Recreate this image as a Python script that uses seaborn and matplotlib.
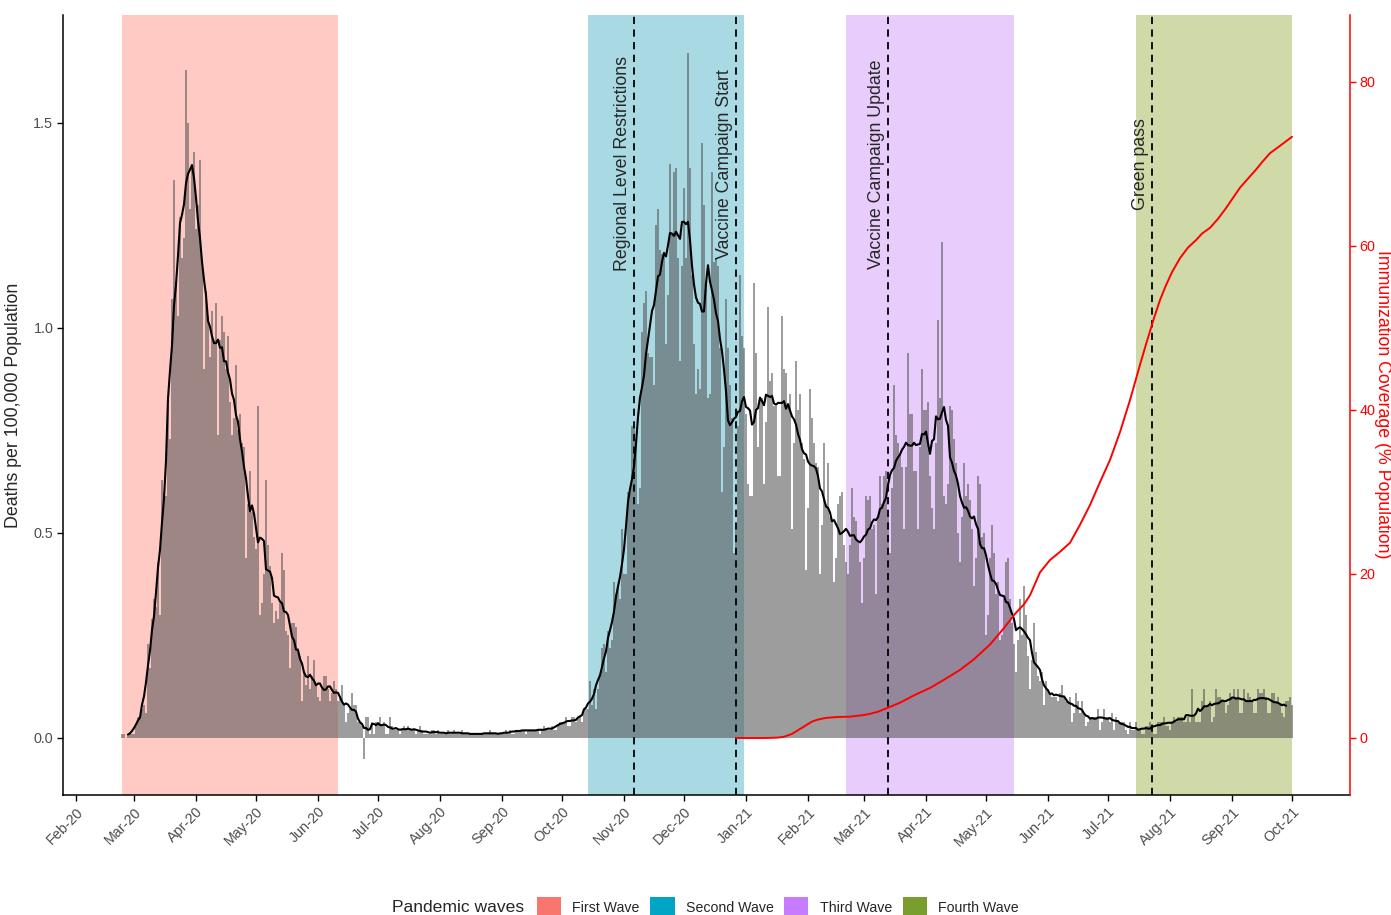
import numpy as np
import pandas as pd
import matplotlib
matplotlib.use('Agg')
import matplotlib.pyplot as plt
import matplotlib.dates as mdates
from matplotlib.patches import Patch
import seaborn as sns

# daily deaths per 100,000 population
feb20 = [0.01, 0.01, 0.00, 0.01, 0.01, 0.01]  # from Feb 24
mar20 = [0.01, 0.03, 0.05, 0.05, 0.07, 0.08, 0.06, 0.23, 0.17, 0.29, 0.34, 0.32, 0.43, 0.30, 0.63, 0.60,
         0.59, 0.81, 0.73, 1.07, 1.36, 1.11, 1.03, 1.27, 1.17, 1.22, 1.63, 1.50, 1.29, 1.39, 1.43]
apr20 = [1.24, 1.30, 1.41, 1.16, 0.90, 1.09, 1.03, 0.93, 1.04, 0.97, 1.06, 0.74, 0.97, 1.03, 0.99,
         0.90, 0.98, 0.82, 0.74, 0.78, 0.91, 0.75, 0.79, 0.72, 0.71, 0.44, 0.57, 0.65, 0.55, 0.49]
may20 = [0.46, 0.81, 0.30, 0.33, 0.40, 0.63, 0.47, 0.42, 0.33, 0.28, 0.31, 0.29, 0.33, 0.45, 0.41, 0.26,
         0.25, 0.17, 0.28, 0.28, 0.27, 0.22, 0.20, 0.09, 0.16, 0.13, 0.20, 0.12, 0.15, 0.19, 0.13]
jun20 = [0.10, 0.09, 0.12, 0.15, 0.15, 0.12, 0.09, 0.11, 0.14, 0.12, 0.09, 0.10, 0.13, 0.08, 0.04,
         0.06, 0.07, 0.11, 0.08, 0.08, 0.04, 0.04, 0.03, -0.05, 0.05, 0.05, 0.01, 0.04, 0.01, 0.04]
jul20 = [0.04, 0.05, 0.03, 0.04, 0.01, 0.01, 0.05, 0.03, 0.02, 0.02, 0.02, 0.01, 0.02, 0.03, 0.02, 0.03,
         0.02, 0.02, 0.02, 0.01, 0.02, 0.03, 0.02, 0.01, 0.01, 0.01, 0.01, 0.02, 0.02, 0.01, 0.02]
aug20 = [0.01, 0.01, 0.01, 0.01, 0.02, 0.01, 0.01, 0.02, 0.01, 0.01, 0.01, 0.02, 0.01, 0.01, 0.01, 0.01,
         0.01, 0.01, 0.01, 0.01, 0.01, 0.01, 0.01, 0.01, 0.01, 0.02, 0.01, 0.01, 0.01, 0.01, 0.01]
sep20 = [0.01, 0.01, 0.02, 0.01, 0.02, 0.01, 0.01, 0.02, 0.02, 0.02, 0.02, 0.02, 0.01, 0.02, 0.02,
         0.02, 0.02, 0.02, 0.02, 0.01, 0.02, 0.03, 0.02, 0.02, 0.02, 0.03, 0.02, 0.02, 0.03, 0.04]
oct20 = [0.04, 0.04, 0.05, 0.03, 0.03, 0.05, 0.05, 0.04, 0.05, 0.05, 0.04, 0.07, 0.07, 0.07, 0.14, 0.08,
         0.12, 0.07, 0.12, 0.15, 0.22, 0.23, 0.16, 0.26, 0.22, 0.24, 0.38, 0.35, 0.37, 0.34, 0.51]
nov20 = [0.40, 0.40, 0.60, 0.60, 0.76, 0.76, 0.73, 0.57, 0.61, 0.99, 1.06, 1.09, 0.94, 0.93, 0.93,
         0.86, 1.25, 1.29, 1.19, 1.18, 1.18, 0.96, 1.08, 1.40, 1.23, 1.38, 1.39, 1.17, 0.92, 1.15]
dec20 = [1.34, 1.17, 1.67, 1.39, 1.13, 0.96, 0.84, 0.90, 0.85, 1.45, 1.30, 1.11, 0.83, 0.84, 1.38, 1.16,
         1.17, 1.15, 0.95, 0.60, 0.71, 1.07, 0.95, 0.86, 0.78, 0.45, 0.52, 0.76, 1.13, 0.98, 0.95]
jan21 = [0.79, 0.62, 0.59, 0.59, 1.11, 0.94, 0.71, 0.83, 0.83, 0.62, 0.77, 1.05, 0.87, 0.89, 0.81, 0.81,
         0.64, 0.64, 1.03, 0.90, 0.89, 0.81, 0.84, 0.51, 0.72, 0.92, 0.80, 0.84, 0.72, 0.68, 0.41]
feb21 = [0.56, 0.85, 0.78, 0.72, 0.67, 0.66, 0.40, 0.52, 0.72, 0.57, 0.67, 0.54, 0.53, 0.38,
         0.44, 0.57, 0.59, 0.60, 0.47, 0.43, 0.40, 0.47, 0.61, 0.54, 0.53, 0.48, 0.43, 0.33]
mar21 = [0.44, 0.59, 0.58, 0.59, 0.51, 0.52, 0.35, 0.54, 0.64, 0.57, 0.64, 0.65, 0.54, 0.45, 0.61, 0.86,
         0.74, 0.72, 0.69, 0.66, 0.51, 0.66, 0.94, 0.79, 0.79, 0.65, 0.65, 0.51, 0.71, 0.90, 0.80]
apr21 = [0.80, 0.82, 0.64, 0.56, 0.51, 0.72, 1.02, 0.83, 1.21, 0.59, 0.57, 0.62, 0.81, 0.80, 0.73,
         0.67, 0.50, 0.43, 0.54, 0.67, 0.59, 0.62, 0.58, 0.51, 0.37, 0.44, 0.64, 0.62, 0.49, 0.50]
may21 = [0.25, 0.30, 0.44, 0.52, 0.45, 0.35, 0.38, 0.24, 0.25, 0.34, 0.43, 0.44, 0.34, 0.28, 0.23, 0.16,
         0.24, 0.34, 0.25, 0.37, 0.30, 0.20, 0.12, 0.19, 0.28, 0.21, 0.15, 0.14, 0.16, 0.08, 0.14]
jun21 = [0.12, 0.11, 0.10, 0.10, 0.10, 0.09, 0.11, 0.13, 0.10, 0.09, 0.09, 0.10, 0.04, 0.06, 0.11,
         0.09, 0.06, 0.09, 0.06, 0.03, 0.04, 0.05, 0.05, 0.05, 0.05, 0.07, 0.02, 0.04, 0.07, 0.05]
jul21 = [0.05, 0.04, 0.06, 0.02, 0.05, 0.04, 0.04, 0.04, 0.04, 0.02, 0.01, 0.04, 0.02, 0.02, 0.04, 0.02,
         0.02, 0.01, 0.01, 0.03, 0.03, 0.04, 0.03, 0.01, 0.01, 0.04, 0.04, 0.04, 0.05, 0.03, 0.03]
aug21 = [0.02, 0.04, 0.05, 0.04, 0.05, 0.05, 0.05, 0.04, 0.04, 0.05, 0.04, 0.12, 0.05, 0.04, 0.04, 0.04,
         0.09, 0.12, 0.08, 0.08, 0.09, 0.04, 0.05, 0.12, 0.10, 0.10, 0.09, 0.09, 0.06, 0.08, 0.11]
sep21 = [0.10, 0.12, 0.10, 0.12, 0.06, 0.06, 0.12, 0.09, 0.11, 0.10, 0.09, 0.06, 0.06, 0.12, 0.11,
         0.11, 0.12, 0.10, 0.06, 0.06, 0.11, 0.11, 0.09, 0.10, 0.08, 0.06, 0.05, 0.09, 0.09, 0.10]
oct21 = [0.08]

# immunization coverage (% population), red line
vax_dates = ['2020-12-27', '2021-01-10', '2021-01-14', '2021-01-17', '2021-01-20', '2021-01-24',
             '2021-01-28', '2021-01-31', '2021-02-03', '2021-02-06', '2021-02-10', '2021-02-15',
             '2021-02-22', '2021-03-01', '2021-03-04', '2021-03-08', '2021-03-13', '2021-03-19',
             '2021-03-26', '2021-04-03', '2021-04-10', '2021-04-18', '2021-04-25', '2021-05-03',
             '2021-05-10', '2021-05-15', '2021-05-20', '2021-05-23', '2021-05-28', '2021-06-02',
             '2021-06-07', '2021-06-12', '2021-06-17', '2021-06-22', '2021-06-27', '2021-07-02',
             '2021-07-07', '2021-07-12', '2021-07-17', '2021-07-20', '2021-07-24', '2021-07-27',
             '2021-07-30', '2021-08-02', '2021-08-06', '2021-08-10', '2021-08-14', '2021-08-17',
             '2021-08-21', '2021-08-25', '2021-08-29', '2021-09-05', '2021-09-09', '2021-09-13',
             '2021-09-16', '2021-09-20', '2021-09-25', '2021-10-01']
vax_cover = [0.0, 0.0, 0.02, 0.05, 0.15, 0.5,
             1.1, 1.55, 2.0, 2.25, 2.45, 2.55,
             2.6, 2.8, 2.95, 3.2, 3.7, 4.3,
             5.2, 6.1, 7.1, 8.3, 9.6, 11.4,
             13.4, 15.0, 16.3, 17.4, 20.2, 21.7,
             22.7, 23.8, 26.0, 28.4, 31.2, 33.9,
             37.3, 41.2, 45.5, 48.0, 51.2, 53.4,
             55.2, 56.8, 58.5, 59.8, 60.7, 61.5,
             62.2, 63.3, 64.6, 67.1, 68.2, 69.3,
             70.2, 71.3, 72.2, 73.3]

wave_names = ['First Wave', 'Second Wave', 'Third Wave', 'Fourth Wave']
wave_start = ['2020-02-24', '2020-10-14', '2021-02-20', '2021-07-15']
wave_end = ['2020-06-11', '2020-12-31', '2021-05-15', '2021-10-01']
wave_key = ['#F8766D', '#00A5C6', '#C77CFF', '#7A9E2E']
wave_shade = ['#FFC9C4', '#A9DAE3', '#E8CCFB', '#CFDAA8']

event_dates = ['2020-11-06', '2020-12-27', '2021-03-13', '2021-07-23']
event_labels = ['Regional Level Restrictions', 'Vaccine Campaign Start',
                'Vaccine Campaign Update', 'Green pass']

deaths = (feb20 + mar20 + apr20 + may20 + jun20 + jul20 + aug20 + sep20 + oct20 + nov20 + dec20
          + jan21 + feb21 + mar21 + apr21 + may21 + jun21 + jul21 + aug21 + sep21 + oct21)
dates = pd.date_range('2020-02-24', '2021-10-01', freq='D')
df = pd.DataFrame({'date': dates, 'deaths': deaths})
df['avg7'] = df['deaths'].rolling(7, center=True, min_periods=7).mean()
vax = pd.DataFrame({'date': pd.to_datetime(vax_dates), 'cover': vax_cover})

sns.set_style('ticks')
plt.rcParams['font.family'] = ['Liberation Sans', 'DejaVu Sans']

W, H = 1391, 915
fig = plt.figure(figsize=(W / 100, H / 100), dpi=100)
ax = fig.add_axes([63 / W, 1 - 795 / H, (1350 - 63) / W, (795 - 15) / H])

for s, e, c in zip(wave_start, wave_end, wave_shade):
    ax.axvspan(pd.Timestamp(s), pd.Timestamp(e), color=c, lw=0, zorder=0)

ax.bar(df['date'], df['deaths'], width=0.75, color='#545454', alpha=0.57, lw=0, zorder=1)
sns.lineplot(data=df, x='date', y='avg7', color='black', lw=1.5, ax=ax, zorder=3)

for d, lab in zip(event_dates, event_labels):
    ax.axvline(pd.Timestamp(d), color='black', ls=(0, (4, 3)), lw=1.3, zorder=4)
    ax.annotate(lab, xy=(pd.Timestamp(d), 1.40), xytext=(-2, 0), textcoords='offset points',
                rotation=90, ha='right', va='center', fontsize=12.8, zorder=5)

ax.set_xlim(pd.Timestamp('2020-01-25 12:00'), pd.Timestamp('2021-10-30'))
ylo, yhi = -0.139, 1.763
ax.set_ylim(ylo, yhi)
ax.set_yticks([0, 0.5, 1.0, 1.5])
ax.set_yticklabels(['0.0', '0.5', '1.0', '1.5'])
ax.xaxis.set_major_locator(mdates.MonthLocator())
ax.xaxis.set_major_formatter(mdates.DateFormatter('%b-%y'))
for t in ax.get_xticklabels():
    t.set_rotation(45)
    t.set_ha('right')
    t.set_rotation_mode('anchor')
ax.set_xlabel('')
ax.set_ylabel('Deaths per 100,000 Population', fontsize=12.8, labelpad=8)
ax.tick_params(axis='both', direction='out', length=4, width=1, color='black',
               labelcolor='#4D4D4D', labelsize=10.4, pad=3)
for side in ['top', 'right']:
    ax.spines[side].set_visible(False)
for side in ['left', 'bottom']:
    ax.spines[side].set_linewidth(1.1)
    ax.spines[side].set_color('black')

ax2 = ax.twinx()
sns.lineplot(data=vax, x='date', y='cover', color='red', lw=1.4, ax=ax2)
ax2.set_ylim(ylo * 50, yhi * 50)
ax2.set_yticks([0, 20, 40, 60, 80])
ax2.set_xlabel('')
ax2.set_ylabel('Immunization Coverage (% Population)', color='red', fontsize=12.8, rotation=270)
ax2.yaxis.label.set_ha('center')
ax2.yaxis.label.set_va('center')
ax2.yaxis.set_label_coords(1382 / W, 1 - 404 / H, transform=fig.transFigure)
ax2.tick_params(axis='y', direction='out', length=4, width=1, color='red',
                labelcolor='red', labelsize=10.4, pad=3)
for side in ['top', 'left', 'bottom']:
    ax2.spines[side].set_visible(False)
ax2.spines['right'].set_color('red')
ax2.spines['right'].set_linewidth(1.1)

ly = 1 - 907 / H
fig.text(392 / W, ly, 'Pandemic waves', fontsize=12.6, va='center', ha='left')
handles = [Patch(facecolor=c, edgecolor='none', label=n) for n, c in zip(wave_names, wave_key)]
fig.legend(handles=handles, loc='center left', bbox_to_anchor=(537 / W, ly), ncol=4,
           frameon=False, fontsize=10.2, handlelength=1.7, handleheight=1.7,
           handletextpad=0.8, columnspacing=0.75, borderpad=0, borderaxespad=0)

fig.savefig('out.png', dpi=100)
